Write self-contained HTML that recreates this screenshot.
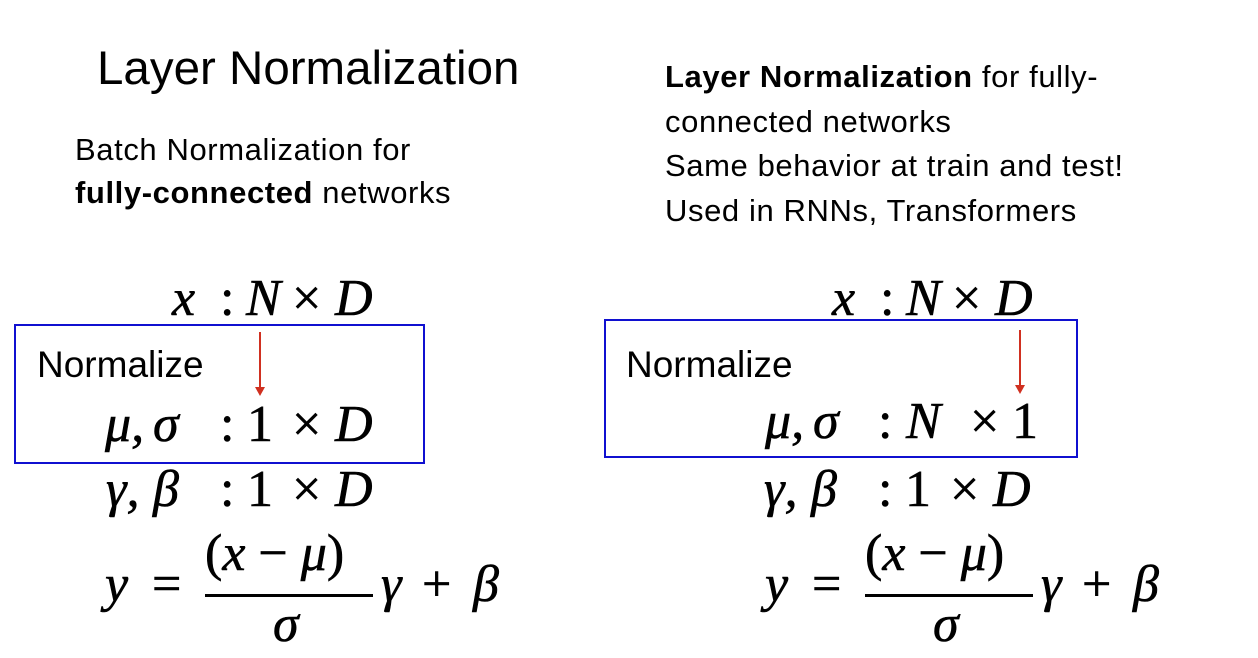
<!DOCTYPE html>
<html><head><meta charset="utf-8"><style>
body{margin:0;width:1258px;height:658px;background:#fff;position:relative;overflow:hidden;font-family:"Liberation Sans",sans-serif;color:#000}
.t{position:absolute;white-space:nowrap;line-height:1}
.g{font-family:"Liberation Serif",serif;font-size:52px;position:absolute;white-space:nowrap;line-height:1;-webkit-text-stroke:0.6px #000}
.i{font-style:italic}
.box{position:absolute;border:2px solid #1010d0}
.arr{position:absolute;width:2px;background:#d03020}
.arr:after{content:"";position:absolute;left:-4px;bottom:-8px;border-left:5px solid transparent;border-right:5px solid transparent;border-top:9px solid #d03020}
</style></head><body>
<div class="t" style="left:97px;top:45px;font-size:47.5px">Layer Normalization</div>
<div class="t" style="left:75px;top:134px;font-size:31px;letter-spacing:0.6px">Batch Normalization for</div>
<div class="t" style="left:75px;top:177px;font-size:31px;letter-spacing:0.6px"><b>fully-connected</b> networks</div>

<div class="t" style="left:665px;top:55px;font-size:31px;line-height:44.5px;letter-spacing:0.6px"><b>Layer Normalization</b> for fully-<br>connected networks<br>Same behavior at train and test!<br>Used in RNNs, Transformers</div>

<div class="box" style="left:14px;top:324px;width:407px;height:136px"></div>
<div class="box" style="left:604px;top:319px;width:470px;height:135px"></div>
<div class="arr" style="left:259px;top:332px;height:56px"></div>
<div class="arr" style="left:1019px;top:330px;height:56px"></div>

<div class="t" style="left:37px;top:346px;font-size:37px">Normalize</div>
<div class="t" style="left:626px;top:346px;font-size:37px">Normalize</div>

<!-- left formulas -->
<div class="g i" style="left:172px;top:273px">x</div>
<div class="g" style="left:220px;top:273px">:</div>
<div class="g i" style="left:246px;top:273px">N</div>
<div class="g" style="left:292px;top:273px">×</div>
<div class="g i" style="left:335px;top:273px">D</div>

<div class="g i" style="left:105px;top:399px">μ,</div>
<div class="g i" style="left:153px;top:399px">σ</div>
<div class="g" style="left:220px;top:399px">:</div>
<div class="g" style="left:247px;top:399px">1</div>
<div class="g" style="left:292px;top:399px">×</div>
<div class="g i" style="left:335px;top:399px">D</div>

<div class="g i" style="left:106px;top:464px">γ,</div>
<div class="g i" style="left:153px;top:464px">β</div>
<div class="g" style="left:220px;top:464px">:</div>
<div class="g" style="left:247px;top:464px">1</div>
<div class="g" style="left:292px;top:464px">×</div>
<div class="g i" style="left:335px;top:464px">D</div>

<div class="g i" style="left:105px;top:559px">y</div>
<div class="g" style="left:152px;top:559px">=</div>
<div class="g" style="left:205px;top:528px"><span>(</span><span class="i">x</span> − <span class="i">μ</span>)</div>
<div style="position:absolute;left:205px;top:594px;width:168px;height:3px;background:#000"></div>
<div class="g i" style="left:273px;top:599px">σ</div>
<div class="g i" style="left:381px;top:559px">γ</div>
<div class="g" style="left:422px;top:559px">+</div>
<div class="g i" style="left:473px;top:559px">β</div>

<!-- right formulas -->
<div class="g i" style="left:832px;top:273px">x</div>
<div class="g" style="left:880px;top:273px">:</div>
<div class="g i" style="left:906px;top:273px">N</div>
<div class="g" style="left:952px;top:273px">×</div>
<div class="g i" style="left:995px;top:273px">D</div>

<div class="g i" style="left:765px;top:396px">μ,</div>
<div class="g i" style="left:813px;top:396px">σ</div>
<div class="g" style="left:878px;top:396px">:</div>
<div class="g i" style="left:906px;top:396px">N</div>
<div class="g" style="left:970px;top:396px">×</div>
<div class="g" style="left:1012px;top:396px">1</div>

<div class="g i" style="left:764px;top:464px">γ,</div>
<div class="g i" style="left:811px;top:464px">β</div>
<div class="g" style="left:878px;top:464px">:</div>
<div class="g" style="left:905px;top:464px">1</div>
<div class="g" style="left:950px;top:464px">×</div>
<div class="g i" style="left:993px;top:464px">D</div>

<div class="g i" style="left:765px;top:559px">y</div>
<div class="g" style="left:812px;top:559px">=</div>
<div class="g" style="left:865px;top:528px"><span>(</span><span class="i">x</span> − <span class="i">μ</span>)</div>
<div style="position:absolute;left:865px;top:594px;width:168px;height:3px;background:#000"></div>
<div class="g i" style="left:933px;top:599px">σ</div>
<div class="g i" style="left:1041px;top:559px">γ</div>
<div class="g" style="left:1082px;top:559px">+</div>
<div class="g i" style="left:1133px;top:559px">β</div>
</body></html>
